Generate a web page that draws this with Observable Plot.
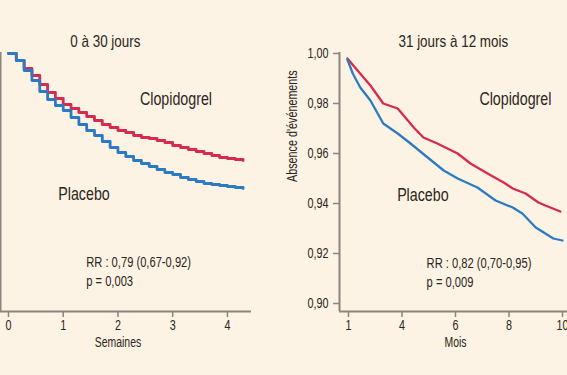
<!DOCTYPE html>
<html><head><meta charset="utf-8">
<script src="https://cdn.jsdelivr.net/npm/d3@7"></script>
<script src="https://cdn.jsdelivr.net/npm/@observablehq/plot@0.6"></script>
<style>
html,body{margin:0;padding:0;background:#fdf3e4;}
#chart{position:relative;width:567px;height:375px;overflow:hidden;background:#fdf3e4;}
#chart svg{position:absolute;top:0;}
</style></head><body><div id="chart"></div>
<script>
// ---- data ----
const series = ["Clopidogrel", "Placebo"];
const colors = ["#d62a4f", "#2c7bc2"];

// Left panel: 0 to 30 days (x in days, shown in weeks)
const leftDays = [0,1,2,3,4,5,6,7,8,9,10,11,12,13,14,15,16,17,18,19,20,21,22,23,24,25,26,27,28,29,30];
const leftClopi = [1.000,0.9972,0.9940,0.9912,0.9876,0.9844,0.9820,0.9796,0.9780,0.9764,0.9748,0.9732,0.9716,0.9704,0.9692,0.9684,0.9672,0.9664,0.9660,0.9652,0.9644,0.9632,0.9624,0.9616,0.9608,0.9600,0.9592,0.9584,0.9580,0.9576,0.9572];
const leftPlacebo = [1.000,0.9972,0.9932,0.9892,0.9848,0.9816,0.9792,0.9772,0.9744,0.9716,0.9692,0.9672,0.9648,0.9624,0.9604,0.9588,0.9572,0.9560,0.9548,0.9536,0.9524,0.9516,0.9504,0.9496,0.9488,0.9480,0.9476,0.9472,0.9468,0.9464,0.9460];
const leftTicks = [0,1,2,3,4];

// Right panel: 31 days to 12 months (x in tick positions)
const rightTickLabels = ["1","4","6","8","10"];
const rightTicks = [0,1,2,3,4];
const rightXClopi = [-0.02,0.17,0.41,0.65,0.92,1.22,1.40,1.66,2.04,2.28,2.60,2.90,3.07,3.31,3.55,3.68,3.96];
const rightClopi = [0.998,0.9932,0.9872,0.980,0.978,0.9704,0.9664,0.964,0.960,0.956,0.952,0.9484,0.946,0.944,0.9404,0.9392,0.9368];
const rightXPlacebo = [-0.02,0.08,0.22,0.41,0.65,0.92,1.16,1.48,1.78,2.04,2.41,2.75,3.07,3.25,3.50,3.68,3.83,4.00];
const rightPlacebo = [0.9976,0.992,0.9864,0.9812,0.972,0.968,0.964,0.9584,0.9532,0.950,0.9464,0.9412,0.9384,0.936,0.9304,0.928,0.926,0.9252];

const yTicks = [0.90,0.92,0.94,0.96,0.98,1.00];
const titles = ["0 à 30 jours", "31 jours à 12 mois"];

// ---- tables ----
const leftData = [
  ...leftDays.map((d,i) => ({week: d/7, value: leftClopi[i], series: series[0]})),
  ...leftDays.map((d,i) => ({week: d/7, value: leftPlacebo[i], series: series[1]}))
];
const rightData = [
  ...rightXClopi.map((x,i) => ({x, value: rightClopi[i], series: series[0]})),
  ...rightXPlacebo.map((x,i) => ({x, value: rightPlacebo[i], series: series[1]}))
];

const font = '"Liberation Sans", Arimo, Arial, sans-serif';
const axisCol = "#8c857e";
const textCol = "#2a2622";
const yDomain = [0.8968, 1.0004];
const fmt = d => d.toFixed(2).replace(".", ",");
const common = {
  height: 375, marginTop: 52, marginBottom: 64,
  style: {fontFamily: font, background: "transparent", overflow: "visible"},
  color: {domain: series, range: colors}
};
const tickFont = 15, smallFont = 15.5, axisLabelFont = 14.5, labelFont = 18.5, titleFont = 16;

const leftX = [-0.146, 4.44];
const left = Plot.plot({
  ...common,
  width: 280, marginLeft: 0, marginRight: 29,
  x: {domain: leftX},
  y: {domain: yDomain, axis: null},
  marks: [
    Plot.ruleX([leftX[0]], {stroke: axisCol, strokeWidth: 2}),
    Plot.ruleY([yDomain[0]], {stroke: axisCol, strokeWidth: 2}),
    Plot.axisX({ticks: leftTicks, tickFormat: d => String(d), tickSize: 6, tickPadding: 2, stroke: axisCol, strokeWidth: 1.5, fill: textCol, fontSize: tickFont, label: null}),
    Plot.line(leftData, {x: "week", y: "value", stroke: "series", z: "series", curve: "step-after", strokeWidth: 2.8}),
    Plot.text([titles[0]], {x: 1.77, frameAnchor: "top", dy: -17, fontSize: titleFont, fill: textCol}),
    Plot.text(["Semaines"], {x: 2, frameAnchor: "bottom", dy: 35, fontSize: axisLabelFont, fill: textCol}),
    Plot.text(["Clopidogrel"], {x: 3.06, y: 0.9816, fontSize: labelFont, fill: textCol}),
    Plot.text(["Placebo"], {x: 1.38, y: 0.9436, fontSize: labelFont, fill: textCol}),
    Plot.text(["RR : 0,79 (0,67-0,92)"], {x: 1.42, y: 0.9164, textAnchor: "start", fontSize: smallFont, fill: textCol}),
    Plot.text(["p = 0,003"], {x: 1.42, y: 0.9088, textAnchor: "start", fontSize: smallFont, fill: textCol})
  ]
});
left.style.left = "0px";

const rightX = [-0.168, 4.206];
const right = Plot.plot({
  ...common,
  width: 300, marginLeft: 59, marginRight: 7,
  x: {domain: rightX},
  y: {domain: yDomain},
  marks: [
    Plot.ruleX([rightX[0]], {stroke: axisCol, strokeWidth: 2}),
    Plot.ruleY([yDomain[0]], {stroke: axisCol, strokeWidth: 2}),
    Plot.axisX({ticks: rightTicks, tickFormat: (d, i) => rightTickLabels[i], tickSize: 6, tickPadding: 2, stroke: axisCol, strokeWidth: 1.5, fill: textCol, fontSize: tickFont, label: null}),
    Plot.axisY({ticks: yTicks, tickFormat: fmt, tickSize: 6, tickPadding: 5, stroke: axisCol, strokeWidth: 1.5, fill: textCol, fontSize: tickFont, label: null}),
    Plot.line(rightData, {x: "x", y: "value", stroke: "series", z: "series", strokeWidth: 2.3}),
    Plot.text([titles[1]], {x: 1.96, frameAnchor: "top", dy: -17, fontSize: titleFont, fill: textCol}),
    Plot.text(["Mois"], {x: 2, frameAnchor: "bottom", dy: 35, fontSize: axisLabelFont, fill: textCol}),
    Plot.text(["Absence d'événements"], {frameAnchor: "left", dx: -47, rotate: -90, fontSize: 15, fill: textCol}),
    Plot.text(["Clopidogrel"], {x: 3.12, y: 0.9816, fontSize: labelFont, fill: textCol}),
    Plot.text(["Placebo"], {x: 1.39, y: 0.9432, fontSize: labelFont, fill: textCol}),
    Plot.text(["RR : 0,82 (0,70-0,95)"], {x: 1.46, y: 0.916, textAnchor: "start", fontSize: smallFont, fill: textCol}),
    Plot.text(["p = 0,009"], {x: 1.46, y: 0.9084, textAnchor: "start", fontSize: smallFont, fill: textCol})
  ]
});
right.style.left = "280px";

// Condense text horizontally to mimic the narrow typeface of the original
function narrow(svg) {
  svg.querySelectorAll("text").forEach(t => {
    const txt = t.textContent;
    const s = titles.includes(txt) ? 0.84 : series.includes(txt) ? 0.77 : 0.72;
    let tr = t.getAttribute("transform") || "";
    const x = t.getAttribute("x");
    if (x !== null && !isNaN(+x) && +x !== 0) { tr += ` translate(${x},0)`; t.setAttribute("x", 0); }
    t.setAttribute("transform", tr + ` scale(${s},1)`);
  });
}
narrow(left);
narrow(right);

const chart = document.getElementById("chart");
chart.appendChild(left);
chart.appendChild(right);
</script></body></html>
